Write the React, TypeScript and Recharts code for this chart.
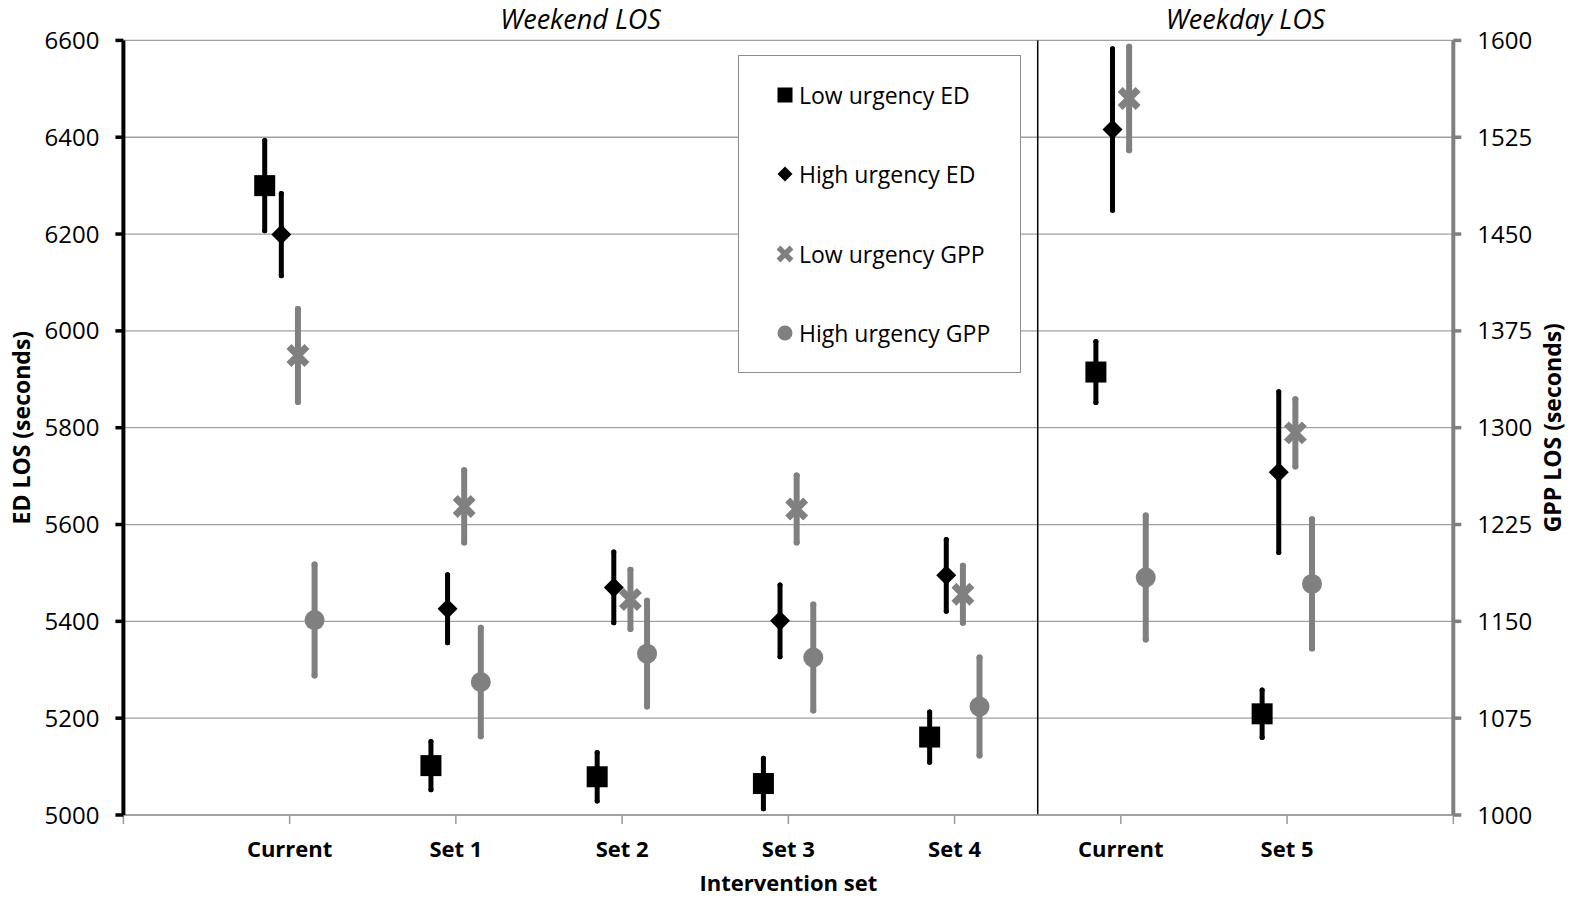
import React from "react";
import {
  ScatterChart,
  Scatter,
  XAxis,
  YAxis,
  CartesianGrid,
  ErrorBar,
  ReferenceLine,
  ReferenceArea,
  Legend,
} from "recharts";

const font = "'Open Sans', sans-serif";
const black = "#000000";
const grey = "#808080";

const categories = ["Current", "Set 1", "Set 2", "Set 3", "Set 4", "Current", "Set 5"];
const seriesNames = ["Low urgency ED", "High urgency ED", "Low urgency GPP", "High urgency GPP"];

// ED values (left axis, seconds)
const lowEd = [6300, 5102, 5079, 5065, 5161, 5915, 5209];
const lowEdErr = [93, 50, 50, 52, 52, 63, 49];
const highEd = [6199, 5426, 5470, 5401, 5495, 6416, 5708];
const highEdErr = [85, 70, 73, 74, 74, 167, 166];

// GPP values (right axis, seconds)
const lowGpp = [1356, 1239, 1167, 1237, 1171, 1555, 1296];
const lowGppErr = [36, 28, 23, 26, 22, 40, 26];
const highGpp = [1151, 1103, 1125, 1122, 1084, 1184, 1179];
const highGppErr = [43, 42, 41, 41, 38, 48, 50];

const edTicks = [5000, 5200, 5400, 5600, 5800, 6000, 6200, 6400, 6600];
const gppTicks = [1000, 1075, 1150, 1225, 1300, 1375, 1450, 1525, 1600];
const xTicks = [0, 1, 2, 3, 4, 5, 6, 7, 8];

const toPoints = (vals: number[], errs: number[], off: number) =>
  vals.map((y, i) => ({ x: i + 1 + off, y, err: errs[i] }));

const SquareMark = ({ cx, cy, s = 21 }: any) => (
  <rect x={cx - s / 2} y={cy - s / 2} width={s} height={s} fill={black} />
);

const DiamondMark = ({ cx, cy, r = 10 }: any) => (
  <polygon
    points={`${cx},${cy - r} ${cx + r},${cy} ${cx},${cy + r} ${cx - r},${cy}`}
    fill={black}
  />
);

const XMark = ({ cx, cy, r = 9, w = 7 }: any) => (
  <path
    d={`M${cx - r},${cy - r}L${cx + r},${cy + r}M${cx - r},${cy + r}L${cx + r},${cy - r}`}
    stroke={grey}
    strokeWidth={w}
    fill="none"
  />
);

const CircleMark = ({ cx, cy, r = 10 }: any) => <circle cx={cx} cy={cy} r={r} fill={grey} />;

const legendMarks: Record<string, (cx: number, cy: number) => React.ReactNode> = {
  "Low urgency ED": (cx, cy) => <SquareMark cx={cx} cy={cy} s={15} />,
  "High urgency ED": (cx, cy) => <DiamondMark cx={cx} cy={cy} r={7.5} />,
  "Low urgency GPP": (cx, cy) => <XMark cx={cx} cy={cy} r={6.5} w={5.5} />,
  "High urgency GPP": (cx, cy) => <CircleMark cx={cx} cy={cy} r={7.5} />,
};

const LegendBox = (props: any) => {
  const payload = [...(props.payload ?? [])].sort(
    (a: any, b: any) => seriesNames.indexOf(a.value) - seriesNames.indexOf(b.value)
  );
  return (
    <div
      style={{
        width: 283,
        height: 318,
        border: "1.5px solid #8c8c8c",
        boxSizing: "border-box",
        background: "#fff",
        position: "relative",
        fontFamily: font,
        fontSize: 23,
        color: black,
      }}
    >
      {payload.map((entry: any, i: number) => (
        <div
          key={entry.value}
          style={{
            position: "absolute",
            left: 34,
            top: 39 + i * 79.3 - 17,
            height: 34,
            display: "flex",
            alignItems: "center",
            whiteSpace: "nowrap",
          }}
        >
          <svg width={24} height={24} style={{ marginRight: 2 }}>
            {legendMarks[entry.value]?.(12, 12)}
          </svg>
          <span>{entry.value}</span>
        </div>
      ))}
    </div>
  );
};

const titleStyle = { fill: black, fontSize: 27, fontStyle: "italic", fontFamily: font };

export default function App() {
  return (
    <div style={{ position: "absolute", left: 0, top: 0, background: "#fff" }}>
      <ScatterChart width={1585} height={898} margin={{ top: 40.4, right: 0, bottom: 0, left: 0 }}>
        <CartesianGrid yAxisId="ed" vertical={false} stroke="#a0a0a0" strokeWidth={1.3} />
        <XAxis
          type="number"
          dataKey="x"
          domain={[0, 8]}
          ticks={xTicks}
          interval={0}
          allowDataOverflow
          tickFormatter={(v: number) => categories[v - 1] ?? ""}
          height={83}
          tickSize={9}
          tickMargin={17}
          axisLine={{ stroke: "#9a9a9a", strokeWidth: 1.5 }}
          tickLine={{ stroke: "#9a9a9a", strokeWidth: 1.5 }}
          tick={{ fill: black, fontSize: 22, fontWeight: 700, fontFamily: font }}
          label={{
            value: "Intervention set",
            position: "insideBottom",
            offset: 7,
            fill: black,
            fontSize: 22,
            fontWeight: 700,
            fontFamily: font,
          }}
        />
        <YAxis
          yAxisId="ed"
          orientation="left"
          type="number"
          domain={[5000, 6600]}
          ticks={edTicks}
          interval={0}
          allowDataOverflow
          width={123.4}
          tickSize={8}
          tickMargin={16}
          axisLine={{ stroke: black, strokeWidth: 4 }}
          tickLine={{ stroke: black, strokeWidth: 3.5 }}
          tick={{ fill: black, fontSize: 24, fontFamily: font }}
          label={{
            value: "ED LOS (seconds)",
            angle: -90,
            position: "insideLeft",
            offset: 22,
            style: { textAnchor: "middle" },
            fill: black,
            fontSize: 23,
            fontWeight: 700,
            fontFamily: font,
          }}
        />
        <YAxis
          yAxisId="gpp"
          orientation="right"
          type="number"
          domain={[1000, 1600]}
          ticks={gppTicks}
          interval={0}
          allowDataOverflow
          width={131.7}
          tickSize={8}
          tickMargin={16}
          axisLine={{ stroke: grey, strokeWidth: 4 }}
          tickLine={{ stroke: grey, strokeWidth: 3.5 }}
          tick={{ fill: black, fontSize: 24, fontFamily: font }}
          label={{
            value: "GPP LOS (seconds)",
            angle: -90,
            position: "insideRight",
            offset: 32,
            style: { textAnchor: "middle" },
            fill: black,
            fontSize: 23,
            fontWeight: 700,
            fontFamily: font,
          }}
        />
        <ReferenceArea
          yAxisId="ed"
          x1={0}
          x2={5.5}
          fill="none"
          fillOpacity={0}
          stroke="none"
          label={{ value: "Weekend LOS", position: "top", offset: 11, ...titleStyle }}
        />
        <ReferenceArea
          yAxisId="ed"
          x1={5.5}
          x2={8}
          fill="none"
          fillOpacity={0}
          stroke="none"
          label={{ value: "Weekday LOS", position: "top", offset: 11, ...titleStyle }}
        />
        <ReferenceLine yAxisId="ed" x={5.5} stroke={black} strokeWidth={1.5} />
        <Legend
          layout="vertical"
          align="center"
          verticalAlign="middle"
          content={LegendBox}
          wrapperStyle={{ left: 738, top: 55, width: 283, height: 318 }}
        />
        <Scatter
          name="Low urgency ED"
          yAxisId="ed"
          data={toPoints(lowEd, lowEdErr, -0.15)}
          dataKey="y"
          fill={black}
          shape={(p: any) => <SquareMark cx={p.cx} cy={p.cy} />}
          isAnimationActive={false}
        >
          <ErrorBar dataKey="err" direction="y" width={0} stroke={black} strokeWidth={5} strokeLinecap="round" isAnimationActive={false} />
        </Scatter>
        <Scatter
          name="High urgency ED"
          yAxisId="ed"
          data={toPoints(highEd, highEdErr, -0.05)}
          dataKey="y"
          fill={black}
          shape={(p: any) => <DiamondMark cx={p.cx} cy={p.cy} />}
          isAnimationActive={false}
        >
          <ErrorBar dataKey="err" direction="y" width={0} stroke={black} strokeWidth={5} strokeLinecap="round" isAnimationActive={false} />
        </Scatter>
        <Scatter
          name="Low urgency GPP"
          yAxisId="gpp"
          data={toPoints(lowGpp, lowGppErr, 0.05)}
          dataKey="y"
          fill={grey}
          shape={(p: any) => <XMark cx={p.cx} cy={p.cy} />}
          isAnimationActive={false}
        >
          <ErrorBar dataKey="err" direction="y" width={0} stroke={grey} strokeWidth={6} strokeLinecap="round" isAnimationActive={false} />
        </Scatter>
        <Scatter
          name="High urgency GPP"
          yAxisId="gpp"
          data={toPoints(highGpp, highGppErr, 0.15)}
          dataKey="y"
          fill={grey}
          shape={(p: any) => <CircleMark cx={p.cx} cy={p.cy} />}
          isAnimationActive={false}
        >
          <ErrorBar dataKey="err" direction="y" width={0} stroke={grey} strokeWidth={6} strokeLinecap="round" isAnimationActive={false} />
        </Scatter>
      </ScatterChart>
    </div>
  );
}
